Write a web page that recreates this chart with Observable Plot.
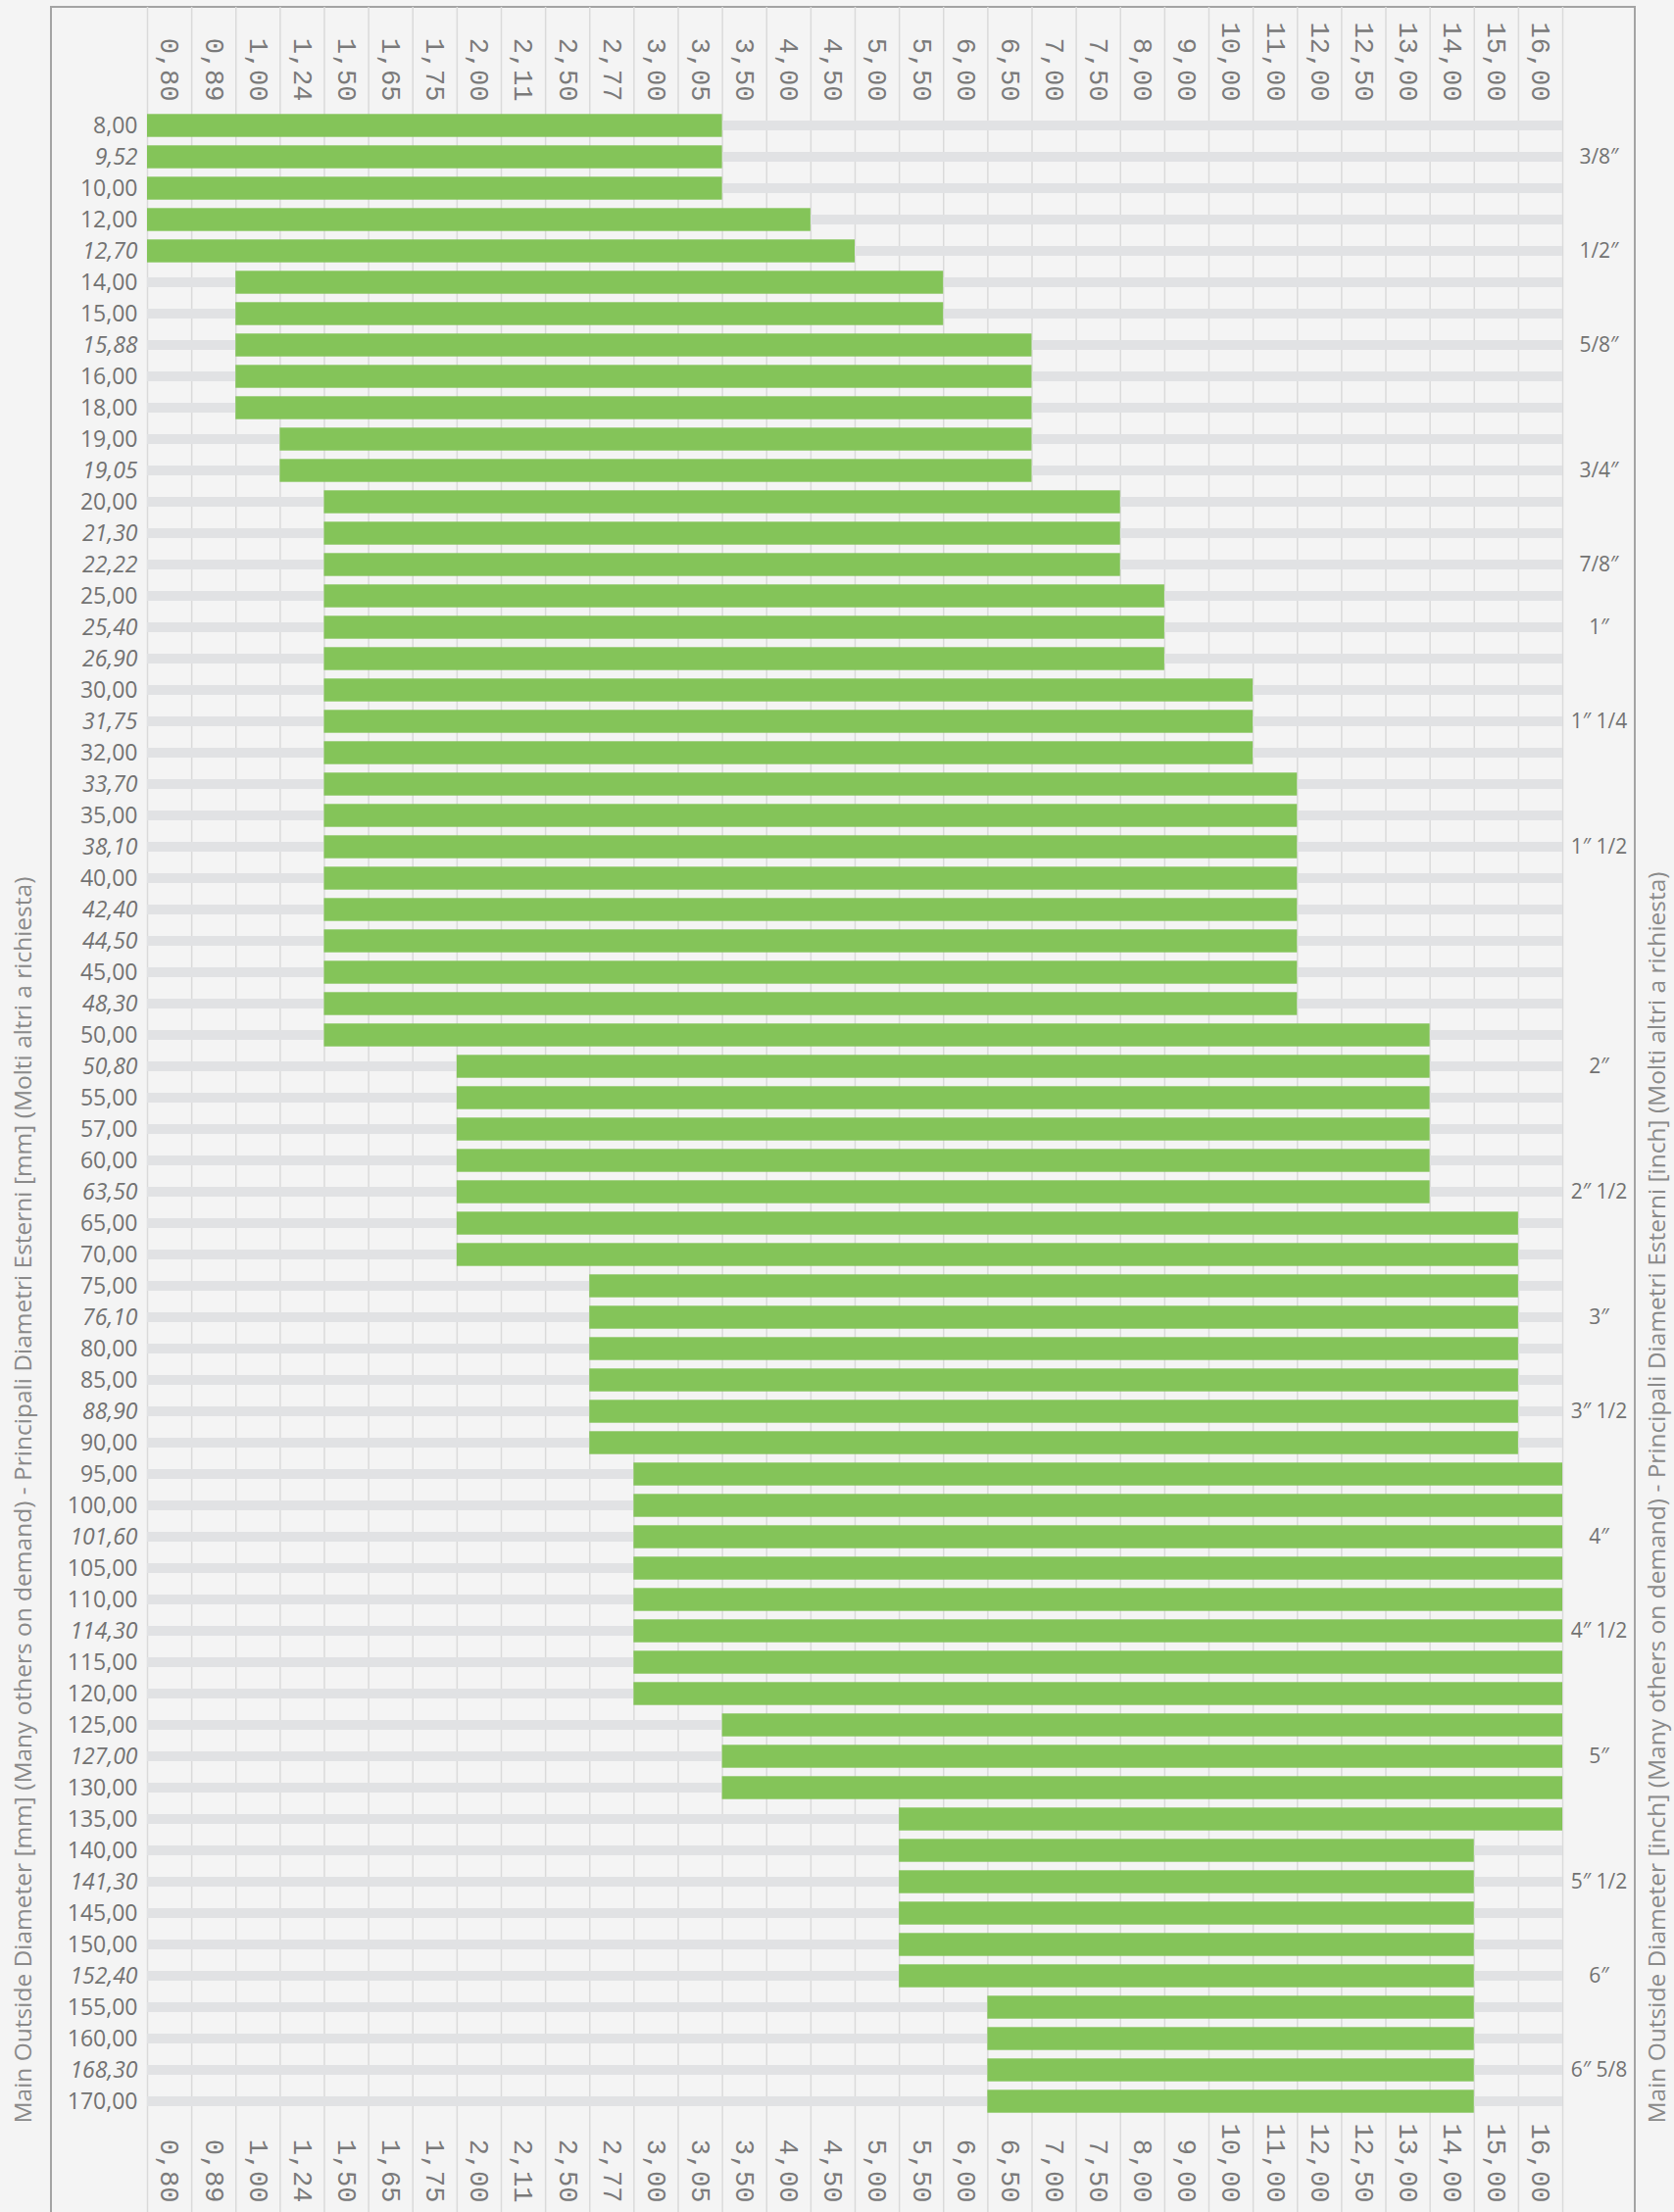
<!DOCTYPE html>
<html><head><meta charset="utf-8">
<script src="https://cdn.jsdelivr.net/npm/d3@7"></script>
<script src="https://cdn.jsdelivr.net/npm/@observablehq/plot@0.6"></script>
<style>
html,body{margin:0;padding:0;background:#f4f4f4;}
#wrap{position:relative;width:1708px;height:2257px;overflow:hidden;}
#frame{position:absolute;left:51px;top:6px;width:1618px;height:2400px;border:2px solid #a3a3a3;box-sizing:border-box;}
#chart{position:absolute;left:0;top:0;}
</style></head><body>
<div id="wrap"><div id="frame"></div><div id="chart"></div></div>
<script>
const thickness = ["0,80","0,89","1,00","1,24","1,50","1,65","1,75","2,00","2,11","2,50","2,77","3,00","3,05","3,50","4,00","4,50","5,00","5,50","6,00","6,50","7,00","7,50","8,00","9,00","10,00","11,00","12,00","12,50","13,00","14,00","15,00","16,00"];

const diameters = ["8,00","9,52","10,00","12,00","12,70","14,00","15,00","15,88","16,00","18,00","19,00","19,05","20,00","21,30","22,22","25,00","25,40","26,90","30,00","31,75","32,00","33,70","35,00","38,10","40,00","42,40","44,50","45,00","48,30","50,00","50,80","55,00","57,00","60,00","63,50","65,00","70,00","75,00","76,10","80,00","85,00","88,90","90,00","95,00","100,00","101,60","105,00","110,00","114,30","115,00","120,00","125,00","127,00","130,00","135,00","140,00","141,30","145,00","150,00","152,40","155,00","160,00","168,30","170,00"];

const minThickness = ["0,80","0,80","0,80","0,80","0,80","1,00","1,00","1,00","1,00","1,00","1,24","1,24","1,50","1,50","1,50","1,50","1,50","1,50","1,50","1,50","1,50","1,50","1,50","1,50","1,50","1,50","1,50","1,50","1,50","1,50","2,00","2,00","2,00","2,00","2,00","2,00","2,00","2,77","2,77","2,77","2,77","2,77","2,77","3,00","3,00","3,00","3,00","3,00","3,00","3,00","3,00","3,50","3,50","3,50","5,50","5,50","5,50","5,50","5,50","5,50","6,50","6,50","6,50","6,50"];

const maxThickness = ["3,05","3,05","3,05","4,00","4,50","5,50","5,50","6,50","6,50","6,50","6,50","6,50","7,50","7,50","7,50","8,00","8,00","8,00","10,00","10,00","10,00","11,00","11,00","11,00","11,00","11,00","11,00","11,00","11,00","13,00","13,00","13,00","13,00","13,00","13,00","15,00","15,00","15,00","15,00","15,00","15,00","15,00","15,00","16,00","16,00","16,00","16,00","16,00","16,00","16,00","16,00","16,00","16,00","16,00","16,00","14,00","14,00","14,00","14,00","14,00","14,00","14,00","14,00","14,00"];

const italicDiameters = ["9,52","12,70","15,88","19,05","21,30","22,22","25,40","26,90","31,75","33,70","38,10","42,40","44,50","48,30","50,80","63,50","76,10","88,90","101,60","114,30","127,00","141,30","152,40","168,30"];

const inchAt = ["9,52","12,70","15,88","19,05","22,22","25,40","31,75","38,10","50,80","63,50","76,10","88,90","101,60","114,30","127,00","141,30","152,40","168,30"];
const inchLabels = ["3/8\u2033","1/2\u2033","5/8\u2033","3/4\u2033","7/8\u2033","1\u2033","1\u2033 1/4","1\u2033 1/2","2\u2033","2\u2033 1/2","3\u2033","3\u2033 1/2","4\u2033","4\u2033 1/2","5\u2033","5\u2033 1/2","6\u2033","6\u2033 5/8"];

const titleLeft = "Main Outside Diameter [mm] (Many others on demand) - Principali Diametri Esterni [mm] (Molti altri a richiesta)";
const titleRight = "Main Outside Diameter [inch] (Many others on demand) - Principali Diametri Esterni [inch] (Molti altri a richiesta)";

const nCols = thickness.length;
const rows = diameters.map((d, i) => ({d, x1: thickness.indexOf(minThickness[i]), x2: thickness.indexOf(maxThickness[i]) + 1}));
const bands = diameters.map(d => ({d, x1: 0, x2: nCols}));
const cols = thickness.map((t, i) => ({t, c: i + 0.5}));
const bounds = d3.range(nCols + 1);
const italicSet = new Set(italicDiameters);

const textGray = "#727272";
const tickStyle = {x: "c", text: "t", rotate: 90, textAnchor: "end", lineAnchor: "middle", fontFamily: "Liberation Mono", fontSize: 27, fill: "#7a7a7a"};
const chart = Plot.plot({
  width: 1708,
  height: 2257,
  marginLeft: 150,
  marginRight: 114,
  marginTop: 112,
  marginBottom: 97,
  style: {background: "transparent", fontFamily: "Open Sans"},
  x: {domain: [0, nCols], axis: null},
  y: {domain: diameters, axis: null, padding: 0},
  marks: [
    Plot.ruleX(bounds, {x: d => d, stroke: "#dadada", strokeWidth: 1.5, insetTop: -105, insetBottom: -100}),
    Plot.barX(bands, {x1: "x1", x2: "x2", y: "d", fill: "#e1e2e4", insetTop: 11, insetBottom: 11}),
    Plot.barX(rows, {x1: "x1", x2: "x2", y: "d", fill: "#84c459", insetTop: 4.3, insetBottom: 4.3}),
    Plot.text(cols, {...tickStyle, frameAnchor: "top", dy: -9}),
    Plot.text(cols, {...tickStyle, frameAnchor: "bottom", dy: 87}),
    Plot.text(diameters.filter(d => !italicSet.has(d)), {y: d => d, text: d => d, frameAnchor: "left", lineAnchor: "middle", dx: -10, textAnchor: "end", fontSize: 23, fill: textGray}),
    Plot.text(diameters.filter(d => italicSet.has(d)), {y: d => d, text: d => d, frameAnchor: "left", lineAnchor: "middle", dx: -10, textAnchor: "end", fontSize: 23, fontStyle: "italic", fill: textGray}),
    Plot.text(inchAt, {y: d => d, text: (d, i) => inchLabels[i], frameAnchor: "right", lineAnchor: "middle", dx: 37, textAnchor: "middle", fontSize: 21, fill: textGray}),
    Plot.text([titleLeft], {text: d => d, frameAnchor: "bottom-left", lineAnchor: "middle", dx: -126, dy: 6, rotate: -90, textAnchor: "start", fontSize: 24.5, fill: "#8a8a8a"}),
    Plot.text([titleRight], {text: d => d, frameAnchor: "bottom-right", lineAnchor: "middle", dx: 97, dy: 6, rotate: -90, textAnchor: "start", fontSize: 24.5, fill: "#8a8a8a"})
  ]
});
document.getElementById("chart").appendChild(chart);
</script>
</body></html>
